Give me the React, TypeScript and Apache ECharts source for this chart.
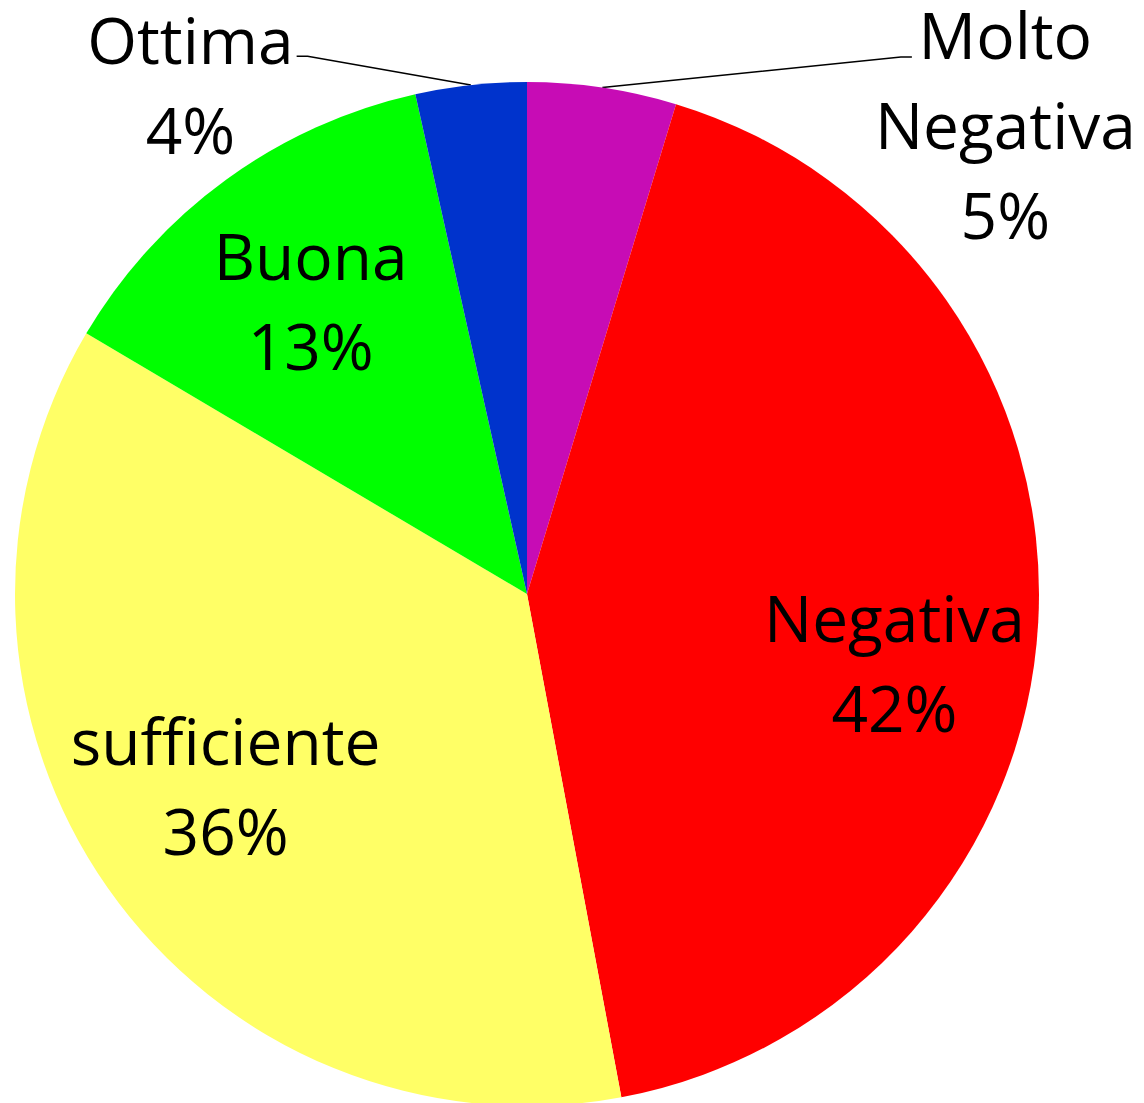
import React, { useEffect, useRef } from 'react';
import * as echarts from 'echarts';

const categories = ['Molto Negativa', 'Negativa', 'sufficiente', 'Buona', 'Ottima'];
const labelLines = [['Molto', 'Negativa'], ['Negativa'], ['sufficiente'], ['Buona'], ['Ottima']];
const values = [4.7, 42.35, 36.45, 13.0, 3.5];
const colors = ['#C70CB5', '#FF0000', '#FFFF66', '#00FF00', '#0033CC'];
const isOutside = [true, false, false, false, true];

const FONT = '"Open Sans", "Noto Sans", sans-serif';
const FS = 64;
const LH = 90;

// label styling (positions/offsets only)
const outsideStyle: Record<number, any> = {
  0: { length: 31, length2: 305, padding: [136, 0, 0, 0], shiftX: -40 },
  4: { length: 29, length2: 171, padding: [56, 0, 0, 0], shiftX: 0 },
};
const insidePadding: Record<number, number[]> = {
  1: [96, 0, 0, 0],
  2: [0, 0, 40, 0],
  3: [8, 0, 0, 0],
};
const STUB = 11;

function fmt(i: number, percent: number) {
  const lines = labelLines[i].map((s) => `{c|${s}}`);
  lines.push(`{c|${Math.round(percent)}%}`);
  return lines.join('\n');
}

export default function App() {
  const ref = useRef<HTMLDivElement>(null);
  useEffect(() => {
    if (!ref.current) return;
    const chart = echarts.init(ref.current, null, { renderer: 'svg' });
    const rich = {
      c: { align: 'center', fontSize: FS, lineHeight: LH, fontFamily: FONT, color: '#000' },
    };
    const center = [527, 594];
    chart.setOption({
      animation: false,
      backgroundColor: '#fff',
      series: [
        {
          type: 'pie',
          center,
          radius: [0, 512],
          startAngle: 90,
          clockwise: true,
          silent: true,
          avoidLabelOverlap: false,
          label: {
            position: 'outside',
            fontSize: FS,
            lineHeight: LH,
            fontFamily: FONT,
            color: '#000',
            distanceToLabelLine: 3,
            formatter: (p: any) => fmt(p.dataIndex, p.percent),
            rich,
          },
          labelLine: { lineStyle: { color: '#000', width: 1.5 } },
          labelLayout: (p: any) => {
            const pts = p.labelLinePoints;
            if (!pts || pts.length < 3) return {};
            const start = pts[0];
            const end = pts[pts.length - 1];
            const dir = end[0] < start[0] ? 1 : -1;
            const res: any = {
              labelLinePoints: [
                [start[0], start[1]],
                [end[0] + dir * STUB, end[1]],
                [end[0], end[1]],
              ],
            };
            const st = outsideStyle[p.dataIndex];
            if (st && st.shiftX) res.x = p.labelRect.x + st.shiftX;
            return res;
          },
          data: categories.map((name, i) => ({
            name,
            value: values[i],
            itemStyle: { color: colors[i] },
            label: isOutside[i]
              ? { show: true, padding: outsideStyle[i].padding }
              : { show: false },
            labelLine: isOutside[i]
              ? { show: true, length: outsideStyle[i].length, length2: outsideStyle[i].length2 }
              : { show: false },
          })),
        },
        {
          type: 'pie',
          center,
          radius: [218, 512],
          startAngle: 90,
          clockwise: true,
          silent: true,
          avoidLabelOverlap: false,
          itemStyle: { color: 'rgba(0,0,0,0)' },
          label: {
            position: 'inside',
            fontSize: FS,
            lineHeight: LH,
            fontFamily: FONT,
            color: '#000',
            formatter: (p: any) => fmt(p.dataIndex, p.percent),
            rich,
          },
          labelLine: { show: false },
          data: categories.map((name, i) => ({
            name,
            value: values[i],
            label: !isOutside[i]
              ? { show: true, padding: insidePadding[i] || 0 }
              : { show: false },
          })),
        },
      ],
    });
    return () => chart.dispose();
  }, []);
  return (
    <div
      ref={ref}
      style={{ position: 'absolute', left: 0, top: 0, width: 1144, height: 1103 }}
    />
  );
}
